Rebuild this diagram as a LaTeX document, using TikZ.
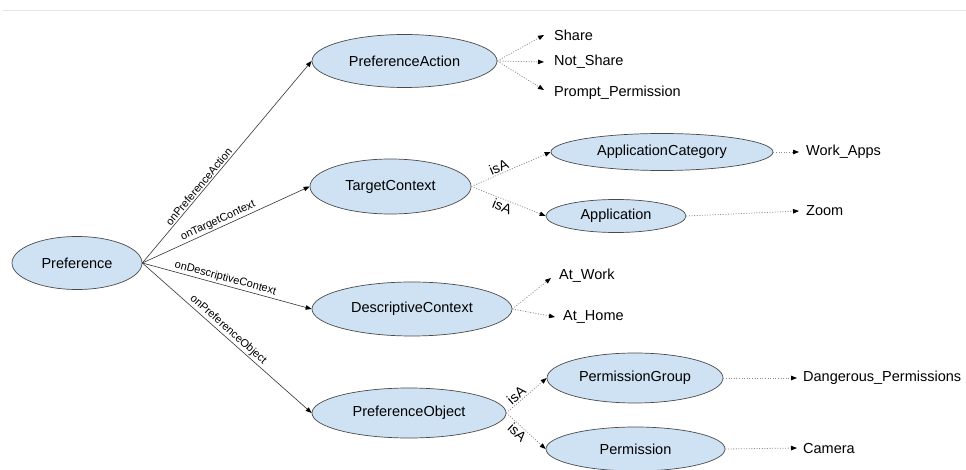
\documentclass[tikz,border=0pt]{standalone}
\usepackage{fontspec}
\setmainfont{Liberation Sans}
\usetikzlibrary{arrows.meta,shapes.geometric}

\definecolor{nodefill}{HTML}{CFE2F3}
\definecolor{nodeline}{HTML}{4A4A4A}
\definecolor{dotline}{HTML}{8C8C8C}

\tikzset{
  concept/.style={draw=nodeline, fill=nodefill, line width=0.7pt, ellipse,
    inner sep=0pt, font=\fontsize{14.5}{16}\selectfont},
  leaf/.style={anchor=west, inner sep=0pt, font=\fontsize{14.5}{16}\selectfont},
  tip/.style={-{Triangle[length=6pt,width=4.5pt,color=black]}},
  relation/.style={tip, draw=black!80, line width=0.6pt},
  instance/.style={tip, draw=dotline, line width=0.8pt, dash pattern=on 1pt off 1.6pt},
  edgelabel/.style={sloped, font=\fontsize{11}{12}\selectfont, inner sep=1.5pt},
  isalabel/.style={edgelabel, font=\fontsize{14}{15}\selectfont},
}

\newcommand{\conceptnode}[6]{% name, x, y, width, height, text
  \node[concept, minimum width=#4pt, minimum height=#5pt] (#1) at (#2,#3) {#6};}

\begin{document}
\begin{tikzpicture}[x=1pt, y=-1pt]
  \useasboundingbox (0,0) rectangle (966,470);

  % faint rule across the top
  \draw[black!10, line width=1pt] (3,11) -- (966,11);

  % concepts
  \conceptnode{pref}{77}{263}{130}{53}{Preference}
  \conceptnode{action}{404.5}{61}{185}{53}{PreferenceAction}
  \conceptnode{target}{390.5}{186.5}{161}{55}{TargetContext}
  \conceptnode{appcat}{662}{152}{222}{37}{ApplicationCategory}
  \conceptnode{app}{616}{216}{140}{33}{Application}
  \conceptnode{desc}{412}{309}{200}{54}{DescriptiveContext}
  \conceptnode{object}{409}{413}{194}{50}{PreferenceObject}
  \conceptnode{permgroup}{635}{378}{176}{50}{PermissionGroup}
  \conceptnode{perm}{635.5}{449}{179}{44}{Permission}

  % individuals
  \node[leaf] (share)   at (554,35) {Share};
  \node[leaf] (notshare) at (554,62) {Not\_Share};
  \node[leaf] (prompt)  at (554,93) {Prompt\_Permission};
  \node[leaf] (workapps) at (806,152) {Work\_Apps};
  \node[leaf] (zoom)    at (806,211) {Zoom};
  \node[leaf] (atwork)  at (559,276) {At\_Work};
  \node[leaf] (athome)  at (563,317) {At\_Home};
  \node[leaf] (danger)  at (803,378) {Dangerous\_Permissions};
  \node[leaf] (camera)  at (803,449) {Camera};

  \coordinate (shareTip)   at (544,35);
  \coordinate (notshareTip) at (544,62);
  \coordinate (promptTip)  at (544,90);
  \coordinate (workTip)    at (799,152);
  \coordinate (zoomTip)    at (799,211);
  \coordinate (atworkTip)  at (551,278);
  \coordinate (athomeTip)  at (555,317);
  \coordinate (dangerTip)  at (797,378);
  \coordinate (cameraTip)  at (797,448);

  % object properties from Preference
  \draw[relation] (pref.east) -- node[edgelabel, above, pos=0.36] {onPreferenceAction} (action.west);
  \draw[relation] (pref.east) -- node[edgelabel, above, pos=0.47] {onTargetContext} (target.west);
  \draw[relation] (pref.east) -- node[edgelabel, above, pos=0.48] {onDescriptiveContext} (desc.west);
  \draw[relation] (pref.east) -- node[edgelabel, above, pos=0.48] {onPreferenceObject} (object.west);

  % subclass links
  \draw[instance] (target.east) -- node[isalabel, above, pos=0.38] {isA} (appcat.west);
  \draw[instance] (target.east) -- node[isalabel, below, pos=0.45] {isA} (app.west);
  \draw[instance] (object.east) -- node[isalabel, above, pos=0.36] {isA} (permgroup.west);
  \draw[instance] (object.east) -- node[isalabel, below, pos=0.40] {isA} (perm.west);

  % individuals of each class
  \draw[instance] (action.east) -- (shareTip);
  \draw[instance] (action.east) -- (notshareTip);
  \draw[instance] (action.east) -- (promptTip);
  \draw[instance] (appcat.east) -- (workTip);
  \draw[instance] (app.east) -- (zoomTip);
  \draw[instance] (desc.east) -- (atworkTip);
  \draw[instance] (desc.east) -- (athomeTip);
  \draw[instance] (permgroup.east) -- (dangerTip);
  \draw[instance] (perm.east) -- (cameraTip);
\end{tikzpicture}
\end{document}
